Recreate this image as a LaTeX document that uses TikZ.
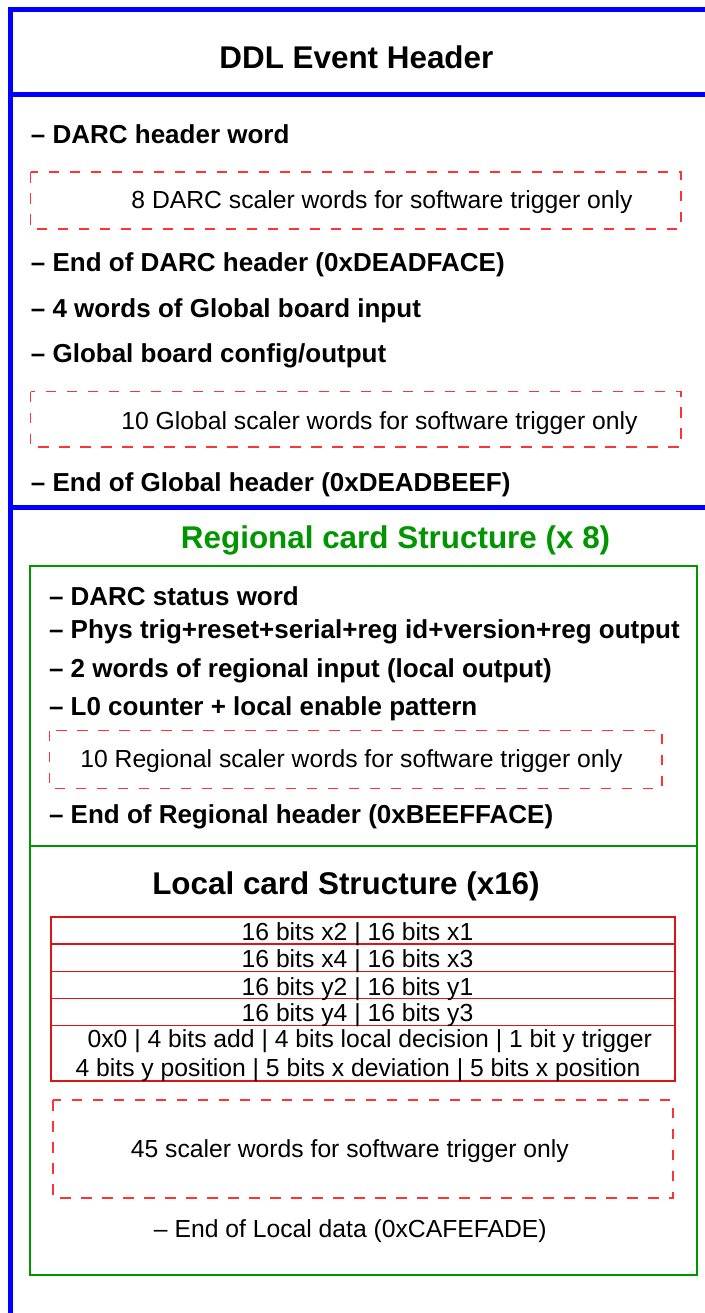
\documentclass[tikz,border=0pt]{standalone}
\usepackage{fontspec}
\setmainfont{Liberation Sans}
\definecolor{ddlblue}{RGB}{0,0,255}
\definecolor{reggreen}{RGB}{0,150,0}
\definecolor{scalred}{RGB}{255,51,51}
\definecolor{locred}{RGB}{221,20,20}

\begin{document}
\begin{tikzpicture}[x=0.5pt,y=-0.5pt,
    header/.style={font=\bfseries\fontsize{15.7}{18}\selectfont, inner sep=0pt, anchor=base},
    wordline/.style={font=\bfseries\fontsize{13}{15}\selectfont, inner sep=0pt, anchor=base west},
    plainline/.style={font=\fontsize{12.35}{14}\selectfont, inner sep=0pt, anchor=base},
    scalerbox/.style={draw=scalred, line width=0.75pt, dash pattern=on 5.25pt off 5.25pt},
  ]
  \useasboundingbox (0,0) rectangle (705,1313);
  % Sizes
  \pgfmathsetmacro{\rightend}{705}
  \pgfmathsetmacro{\leftx}{10}

  % frames
  \draw[ddlblue, line width=2.5pt] (\rightend,9.3) -- (\leftx,9.3) -- (\leftx,1313);
  \draw[ddlblue, line width=2.5pt] (\leftx,94.5) -- (\rightend,94.5);
  \draw[ddlblue, line width=2.5pt] (\leftx,507.5) -- (\rightend,507.5);
  \draw[reggreen, line width=1pt] (30,565.5) rectangle (697,1274.5);
  \draw[reggreen, line width=1pt] (30,846) -- (697,846);

  % scaler boxes
  \draw[scalerbox] (30.6,172) rectangle (681,229);
  \draw[scalerbox] (30.6,391.7) rectangle (681,447);
  \draw[scalerbox] (49.5,730.7) rectangle (662,788.3);
  \draw[scalerbox] (53,1100) rectangle (673,1198);

  % local table
  \draw[locred, line width=0.75pt] (51,917) rectangle (675,1081);
  \foreach \rowy in {944,971.7,998.5,1025.3}
    \draw[locred, line width=0.75pt] (51,\rowy) -- (675,\rowy);

  % DDL header
  \node[header] (ddltitle) at (356.4,68) {DDL Event Header};
  \node[wordline] (darchdr) at (30.5,143) {– DARC header word};
  \node[plainline] (darcscaler) at (382,208.3) {8 DARC scaler words for software trigger only};
  \node[wordline] (darcend) at (30.5,271.7) {– End of DARC header (0xDEADFACE)};
  \node[wordline] (globin) at (30.5,317) {– 4 words of Global board input};
  \node[wordline] (globcfg) at (30.5,362) {– Global board config/output};
  \node[plainline] (globscaler) at (379.5,429) {10 Global scaler words for software trigger only};
  \node[wordline] (globend) at (30.5,491) {– End of Global header (0xDEADBEEF)};

  % regional card
  \node[header, text=reggreen] (regtitle) at (395.6,548.3) {Regional card Structure (x 8)};
  \node[wordline] (regstatus) at (48.6,605) {– DARC status word};
  \node[wordline] (regphys) at (48.6,638.3) {– Phys trig+reset+serial+reg id+version+reg output};
  \node[wordline] (reginput) at (48.6,677) {– 2 words of regional input (local output)};
  \node[wordline] (regcount) at (48.6,715) {– L0 counter + local enable pattern};
  \node[plainline] (regscaler) at (351.5,767.3) {10 Regional scaler words for software trigger only};
  \node[wordline] (regend) at (48.6,823.3) {– End of Regional header (0xBEEFFACE)};

  % local card
  \node[header] (loctitle) at (346,894) {Local card Structure (x16)};
  \node[plainline] (locrowa) at (357.5,940.7) {16 bits x2 | 16 bits x1};
  \node[plainline] (locrowb) at (357.5,967.3) {16 bits x4 | 16 bits x3};
  \node[plainline] (locrowc) at (357.5,995) {16 bits y2 | 16 bits y1};
  \node[plainline] (locrowd) at (357.5,1021.7) {16 bits y4 | 16 bits y3};
  \node[plainline] (locrowe) at (369.8,1047.3) {0x0 | 4 bits add | 4 bits local decision | 1 bit y trigger};
  \node[plainline] (locrowf) at (358,1076.7) {4 bits y position | 5 bits x deviation | 5 bits x position};
  \node[plainline] (locscaler) at (349.8,1157.3) {45 scaler words for software trigger only};
  \node[plainline] (locend) at (350.3,1237.3) {– End of Local data (0xCAFEFADE)};
\end{tikzpicture}
\end{document}
